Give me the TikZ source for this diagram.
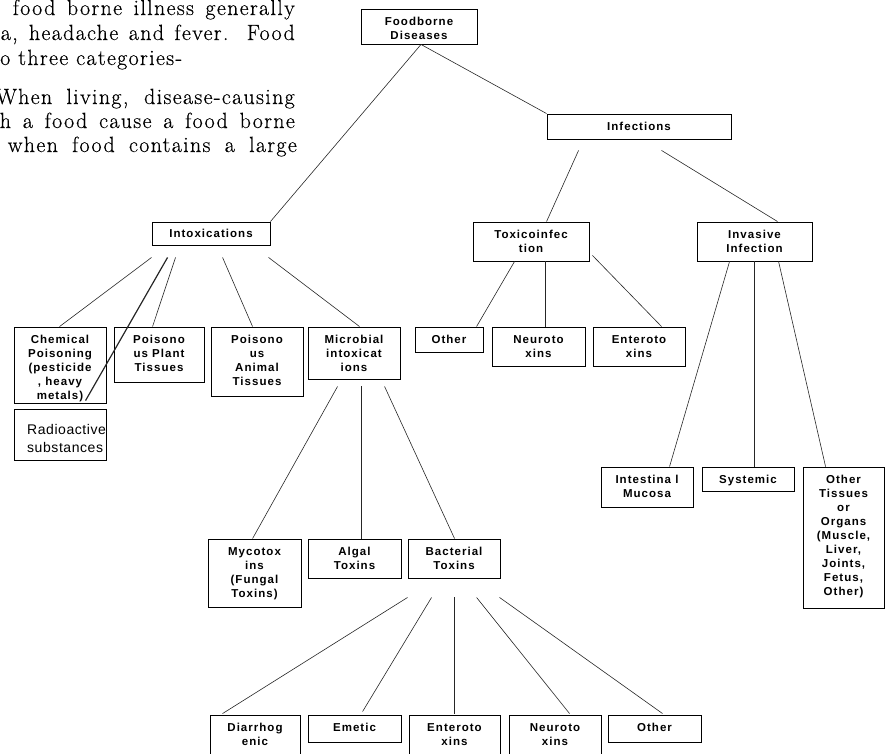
\documentclass[tikz,border=0pt]{standalone}
\usepackage{fontspec}
\newfontfamily\boxfont[LetterSpace=9]{Liberation Sans}
\newfontfamily\radfont[LetterSpace=4]{Liberation Sans}
\newfontfamily\bodyfont[LetterSpace=6,FakeBold=0.4]{Latin Modern Roman}
\usetikzlibrary{calc}
\newcommand\bxt[3]{\parbox[c][#2][t]{#1}{\centering\rule{0pt}{16pt}#3}}
\tikzset{
  bx/.style={draw=black, line width=0.9pt, inner sep=0pt,
    font=\boxfont\bfseries\fontsize{11.5}{14}\selectfont},
  conn/.style={draw=black!85, line width=0.6pt},
  body/.style={inner sep=0pt, font=\bodyfont\fontsize{22}{24}\selectfont},
}
\begin{document}
\begin{tikzpicture}[x=1pt,y=-1pt]
\useasboundingbox (0,0) rectangle (885,753);
\clip (0,0) rectangle (885,753);
% body text of the page
\node[body, anchor=base east] (t1) at (295,15) {\makebox[282pt][s]{food borne illness generally}};
\node[body, anchor=base east] (t2) at (295,40) {\makebox[294pt][s]{a, headache and fever. Food}};
\node[body, anchor=base west] (t3) at (0,65) {o three categories-};
\node[body, anchor=base east] (t4) at (295,104) {\makebox[299pt][s]{When living, disease-causing}};
\node[body, anchor=base east] (t5) at (295,128) {\makebox[295pt][s]{h a food cause a food borne}};
\node[body, anchor=base east] (t6) at (297,152) {\makebox[289pt][s]{when food contains a large}};
% boxes
\node[bx] (food) at (419,26.5) {\bxt{116pt}{35pt}{Foodborne\\Diseases}};
\node[bx] (inf) at (639,126.5) {\bxt{184pt}{25pt}{Infections}};
\node[bx] (intox) at (211,233.5) {\parbox[c][23pt][t]{118pt}{\centering\rule{0pt}{15.5pt}Intoxications}};
\node[bx] (toxico) at (531,241.5) {\bxt{116pt}{39pt}{Toxicoinfec\\tion}};
\node[bx] (inv) at (754.5,241.5) {\bxt{115pt}{39pt}{Invasive\\Infection}};
\node[bx] (chem) at (60,365) {\bxt{92pt}{76pt}{Chemical\\Poisoning\\(pesticide\\, heavy\\metals)}};
\node[bx, minimum width=92pt, minimum height=51pt] (radio) at (60,434.5) {};
\node[inner sep=0pt, anchor=north west, align=left, font=\radfont\fontsize{14}{18}\selectfont] (radtxt) at (27,424) {Radioactive\\substances};
\node[bx] (plant) at (159,354.5) {\bxt{90pt}{55pt}{Poisono\\us Plant\\Tissues}};
\node[bx] (animal) at (257,361.5) {\bxt{92pt}{69pt}{Poisono\\us\\Animal\\Tissues}};
\node[bx] (micro) at (354,353) {\bxt{92pt}{52pt}{Microbial\\intoxicat\\ions}};
\node[bx] (tother) at (449,339.5) {\bxt{68pt}{25pt}{Other}};
\node[bx] (tneuro) at (538.5,346.5) {\bxt{93pt}{39pt}{Neuroto\\xins}};
\node[bx] (tentero) at (639,346.5) {\bxt{92pt}{39pt}{Enteroto\\xins}};
\node[bx] (intest) at (647,487) {\bxt{92pt}{40pt}{Intestina l\\Mucosa}};
\node[bx] (syst) at (748,479) {\bxt{92pt}{24pt}{Systemic}};
\node[bx] (oth) at (843.5,537.5) {\bxt{81pt}{141pt}{Other\\Tissues\\or\\Organs\\(Muscle,\\Liver,\\Joints,\\Fetus,\\Other)}};
\node[bx] (myco) at (254.5,573) {\bxt{93pt}{68pt}{Mycotox\\ins\\(Fungal\\Toxins)}};
\node[bx] (algal) at (354.5,558.5) {\bxt{93pt}{39pt}{Algal\\Toxins}};
\node[bx] (bact) at (454,558.5) {\bxt{92pt}{39pt}{Bacterial\\Toxins}};
\node[bx] (diarr) at (255,742.5) {\bxt{90pt}{55pt}{Diarrhog\\enic}};
\node[bx] (emetic) at (354.5,728.5) {\bxt{93pt}{27pt}{Emetic}};
\node[bx] (bentero) at (454.5,742.5) {\bxt{91pt}{55pt}{Enteroto\\xins}};
\node[bx] (bneuro) at (555,742.5) {\bxt{92pt}{55pt}{Neuroto\\xins}};
\node[bx] (bother) at (654.5,728.5) {\bxt{93pt}{27pt}{Other}};
% connectors
\draw[conn] ($(food.south)+(2,0)$) -- (intox.north east);
\draw[conn] ($(food.south)+(2,0)$) -- (inf.north west);
\draw[conn] ($(inf.south west)+(32,11)$) -- ($(toxico.north west)+(74,0)$);
\draw[conn] ($(inf.south west)+(115,11)$) -- ($(inv.north west)+(81,0)$);
\draw[conn] ($(intox.south west)+(0,12)$) -- ($(chem.north west)+(46,0)$);
\draw[conn, line width=1.2pt] ($(intox.south west)+(16,12)$) -- ($(radio.north west)+(72,-8)$);
\draw[conn] ($(intox.south west)+(24,12)$) -- ($(plant.north west)+(39,0)$);
\draw[conn] ($(intox.south west)+(71,12)$) -- ($(animal.north west)+(42,0)$);
\draw[conn] ($(intox.south west)+(117,12)$) -- ($(micro.north west)+(52,0)$);
\draw[conn] ($(micro.south west)+(30,7)$) -- ($(myco.north west)+(45,0)$);
\draw[conn] ($(micro.south west)+(54,7)$) -- ($(algal.north west)+(54,0)$);
\draw[conn] ($(micro.south west)+(77,7)$) -- ($(bact.north west)+(47,0)$);
\draw[conn] ($(toxico.south west)+(42,0)$) -- ($(tother.north west)+(62,0)$);
\draw[conn] ($(toxico.south west)+(73,0)$) -- ($(tneuro.north west)+(54,0)$);
\draw[conn] ($(toxico.south east)+(3,-6)$) -- ($(tentero.north west)+(69,0)$);
\draw[conn] ($(inv.south west)+(33,0)$) -- ($(intest.north west)+(69,0)$);
\draw[conn] ($(inv.south west)+(58,0)$) -- ($(syst.north west)+(53,0)$);
\draw[conn] ($(inv.south west)+(82,0)$) -- ($(oth.north west)+(23,0)$);
\draw[conn] ($(bact.south west)+(0,19)$) -- ($(diarr.north west)+(13,-1)$);
\draw[conn] ($(bact.south west)+(24,19)$) -- ($(emetic.north west)+(55,-3)$);
\draw[conn] ($(bact.south west)+(47,19)$) -- ($(bentero.north west)+(46,-1)$);
\draw[conn] ($(bact.south west)+(69,19)$) -- ($(bneuro.north west)+(61,-1)$);
\draw[conn] ($(bact.south west)+(92,19)$) -- ($(bother.north west)+(55,-1)$);
\end{tikzpicture}
\end{document}
